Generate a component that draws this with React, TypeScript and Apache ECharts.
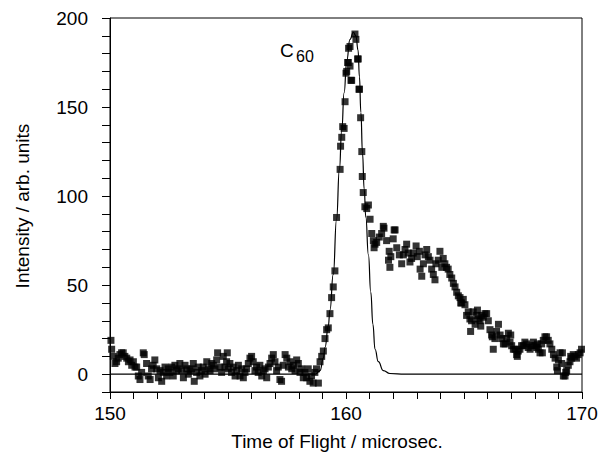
import React, { useEffect, useRef } from "react";
import * as echarts from "echarts";

// Measured time of flight (microsec) and intensity (arb. units)
const tof = [
  150.04, 150.07, 150.14, 150.21, 150.28, 150.35, 150.42, 150.49, 150.56, 150.63, 150.71, 150.78, 150.85, 150.92, 150.99,
  151.06, 151.13, 151.2, 151.27, 151.34, 151.41, 151.45, 151.55, 151.62, 151.7, 151.76, 151.83, 151.9, 151.98,
  152.05, 152.12, 152.19, 152.26, 152.33, 152.4, 152.47, 152.54, 152.61, 152.68, 152.75, 152.82, 152.89, 152.96,
  153.04, 153.11, 153.18, 153.25, 153.32, 153.39, 153.46, 153.53, 153.57, 153.67, 153.74, 153.81, 153.88, 153.95,
  154.03, 154.1, 154.17, 154.24, 154.31, 154.38, 154.45, 154.52, 154.56, 154.66, 154.73, 154.8, 154.87, 154.94, 154.97,
  155.01, 155.08, 155.15, 155.22, 155.3, 155.37, 155.44, 155.51, 155.58, 155.65, 155.72, 155.79, 155.86, 155.93,
  156.0, 156.07, 156.14, 156.21, 156.28, 156.35, 156.43, 156.5, 156.57, 156.64, 156.71, 156.78, 156.85, 156.92, 156.99,
  157.06, 157.13, 157.2, 157.27, 157.34, 157.42, 157.49, 157.56, 157.63, 157.7, 157.77, 157.84, 157.91, 157.98,
  158.05, 158.12, 158.19, 158.26, 158.33, 158.4, 158.47, 158.54, 158.61, 158.68, 158.75, 158.83, 158.9, 158.97,
  159.04, 159.11, 159.18, 159.25, 159.32, 159.39, 159.46, 159.53, 159.6, 159.75, 159.77, 159.82, 159.86, 159.92, 159.96,
  160.0, 160.03, 160.07, 160.1, 160.11, 160.17, 160.17, 160.21, 160.24, 160.38, 160.42, 160.49, 160.52, 160.55, 160.57,
  160.62, 160.67, 160.69, 160.73, 160.8, 160.88, 160.95,
  161.02, 161.09, 161.16, 161.19, 161.23, 161.3, 161.41, 161.51, 161.58, 161.61, 161.72, 161.8, 161.83, 161.86, 161.9,
  162.0, 162.04, 162.08, 162.15, 162.26, 162.36, 162.43, 162.5, 162.57, 162.64, 162.71, 162.78, 162.85, 162.97,
  163.02, 163.11, 163.14, 163.21, 163.28, 163.35, 163.42, 163.49, 163.56, 163.63, 163.7, 163.77, 163.81, 163.91, 163.98,
  164.06, 164.12, 164.19, 164.26, 164.33, 164.4, 164.48, 164.55, 164.62, 164.69, 164.76, 164.83, 164.86, 164.9, 164.97,
  165.04, 165.11, 165.18, 165.25, 165.28, 165.32, 165.39, 165.47, 165.54, 165.57, 165.61, 165.68, 165.71, 165.75, 165.82, 165.89, 165.96,
  166.03, 166.1, 166.17, 166.2, 166.24, 166.31, 166.38, 166.46, 166.53, 166.6, 166.67, 166.74, 166.81, 166.88, 166.95, 166.98,
  167.02, 167.09, 167.16, 167.23, 167.26, 167.3, 167.37, 167.44, 167.51, 167.58, 167.65, 167.72, 167.8, 167.87, 167.94,
  168.01, 168.08, 168.11, 168.15, 168.22, 168.29, 168.32, 168.36, 168.43, 168.5, 168.57, 168.64, 168.72, 168.79, 168.86, 168.93, 168.96,
  169.0, 169.07, 169.14, 169.17, 169.21, 169.28, 169.31, 169.35, 169.42, 169.49, 169.52, 169.56, 169.63, 169.7, 169.77, 169.84, 169.92, 169.98,
];

const intensity = [
  19, 14, 10, 6, 7, 9, 11, 12, 12, 10, 9, 7, 8, 5, 7,
  4, 4, -1, -3, 1, 12, 11, 6, -1, -3, 3, 5, 8, 3,
  -2, 2, -4, 1, 4, -1, 3, 1, 4, -1, 5, 2, 3, 6,
  2, -2, 5, 3, 0, 2, 3, 6, -4, 1, 4, -1, 2, 4,
  0, 7, 3, 2, 6, 5, 3, 8, 12, 4, 1, 10, 4, 7, 12,
  3, 6, 1, 4, -1, 2, 5, -1, 3, -2, 1, 3, 6, 9,
  10, 7, 2, 4, 1, 5, -1, 2, 3, -2, 4, 6, 9, 11, 7,
  2, 4, -3, -4, 5, 11, 9, 4, 7, 3, 5, 2, 8, 6,
  1, 3, -2, 1, -2, 3, -4, -1, -5, 1, 3, -5, 7, 10,
  13, 20, 25, 26, 34, 43, 49, 58, 88, 115, 128, 133, 139, 138, 153,
  169, 170, 175, 175, 183, 173, 184, 165, 165, 191, 188, 177, 177, 160, 160,
  144, 125, 111, 102, 94, 93, 95,
  87, 79, 75, 71, 73, 74, 77, 79, 83, 82, 75, 64, 69, 60, 66,
  76, 81, 81, 71, 67, 62, 67, 70, 73, 68, 63, 65, 68, 72,
  66, 69, 59, 55, 62, 67, 70, 66, 64, 59, 56, 53, 62, 64, 69,
  60, 65, 62, 60, 59, 56, 54, 51, 49, 46, 44, 43, 40, 40, 42,
  39, 33, 35, 31, 24, 30, 35, 28, 33, 36, 31, 30, 27, 33, 32, 34, 34,
  30, 25, 22, 21, 14, 20, 24, 28, 22, 20, 17, 17, 20, 23, 18, 22,
  16, 14, 14, 11, 10, 13, 14, 16, 16, 18, 17, 15, 14, 16, 18,
  16, 15, 17, 14, 12, 17, 12, 19, 21, 21, 19, 17, 14, 11, 9, 4, 2,
  8, 12, 6, 12, -1, -1, 1, 2, 5, 7, 10, 9, 11, 10, 9, 11, 12, 14,
];

// Fitted curve
const fitTof = [
  150, 158.7, 158.9, 159.04, 159.11, 159.25, 159.32, 159.46, 159.6, 159.72, 159.82, 159.92, 160.03, 160.17, 160.31,
  160.42, 160.51, 160.57, 160.63, 160.7, 160.77, 160.84, 160.95, 161.05, 161.14, 161.23, 161.37, 161.58, 161.86, 162.5, 170,
];
const fitIntensity = [
  0, 0, 2, 9, 15, 27, 36, 56, 87, 115, 137, 158, 176, 188, 192,
  190, 182, 167, 147, 124, 104, 88, 67, 46, 28, 14, 7, 2, 0.4, 0, 0,
];

const xLabels = [150, 160, 170];
const yLabels = [0, 50, 100, 150, 200];

const FONT = "Liberation Sans, Arial, Helvetica, sans-serif";

export default function App() {
  const ref = useRef<HTMLDivElement>(null);

  useEffect(() => {
    if (!ref.current) return;
    const chart = echarts.init(ref.current, null, { renderer: "svg" });
    const scatterData = tof.map((t, i) => [t, intensity[i]]);
    const fitData = fitTof.map((t, i) => [t, fitIntensity[i]]);

    chart.setOption({
      animation: false,
      backgroundColor: "#ffffff",
      grid: {
        left: 110,
        top: 18,
        width: 472,
        height: 374,
        show: true,
        borderColor: "#000",
        borderWidth: 1,
        backgroundColor: "transparent",
      },
      xAxis: {
        type: "value",
        min: 150,
        max: 170,
        interval: 1,
        axisLine: { show: true, onZero: false, lineStyle: { color: "#000", width: 1 } },
        axisTick: { show: true, length: 7, inside: false, lineStyle: { color: "#000", width: 1 } },
        axisLabel: {
          showMinLabel: true,
          showMaxLabel: true,
          formatter: (v: number) => (xLabels.includes(Math.round(v)) ? String(Math.round(v)) : ""),
          fontSize: 19,
          fontFamily: FONT,
          color: "#000",
          margin: 12,
        },
        splitLine: { show: false },
      },
      yAxis: {
        type: "value",
        min: -10,
        max: 200,
        interval: 10,
        axisLine: { show: true, onZero: false, lineStyle: { color: "#000", width: 1 } },
        axisTick: { show: true, length: 8, inside: false, lineStyle: { color: "#000", width: 1 } },
        axisLabel: {
          showMinLabel: true,
          showMaxLabel: true,
          formatter: (v: number) => (yLabels.includes(Math.round(v)) ? String(Math.round(v)) : ""),
          fontSize: 19,
          fontFamily: FONT,
          color: "#000",
          margin: 22,
        },
        splitLine: { show: false },
      },
      series: [
        {
          type: "line",
          data: fitData,
          symbol: "none",
          smooth: true,
          smoothMonotone: "x",
          lineStyle: { color: "#000", width: 1.2 },
          z: 2,
        },
        {
          type: "scatter",
          data: scatterData,
          symbol: "rect",
          symbolSize: 7,
          itemStyle: { color: "#000" },
          z: 3,
        },
      ],
      graphic: [
        {
          type: "text",
          x: 22,
          y: 206,
          rotation: Math.PI / 2,
          style: {
            text: "Intensity / arb. units",
            fontSize: 19,
            fontFamily: FONT,
            fill: "#000",
            textAlign: "center",
            textVerticalAlign: "middle",
          },
        },
        {
          type: "text",
          x: 337,
          y: 441,
          style: {
            text: "Time of Flight / microsec.",
            fontSize: 19,
            fontFamily: FONT,
            fill: "#000",
            textAlign: "center",
            textVerticalAlign: "middle",
          },
        },
        {
          type: "text",
          x: 280,
          y: 50,
          style: {
            text: "C",
            fontSize: 19,
            fontFamily: FONT,
            fill: "#000",
            textAlign: "left",
            textVerticalAlign: "middle",
          },
        },
        {
          type: "text",
          x: 296,
          y: 56,
          style: {
            text: "60",
            fontSize: 16,
            fontFamily: FONT,
            fill: "#000",
            textAlign: "left",
            textVerticalAlign: "middle",
          },
        },
      ],
    });

    return () => {
      chart.dispose();
    };
  }, []);

  return (
    <div
      ref={ref}
      style={{ position: "fixed", left: 0, top: 0, width: 602, height: 452, background: "#fff" }}
    />
  );
}
